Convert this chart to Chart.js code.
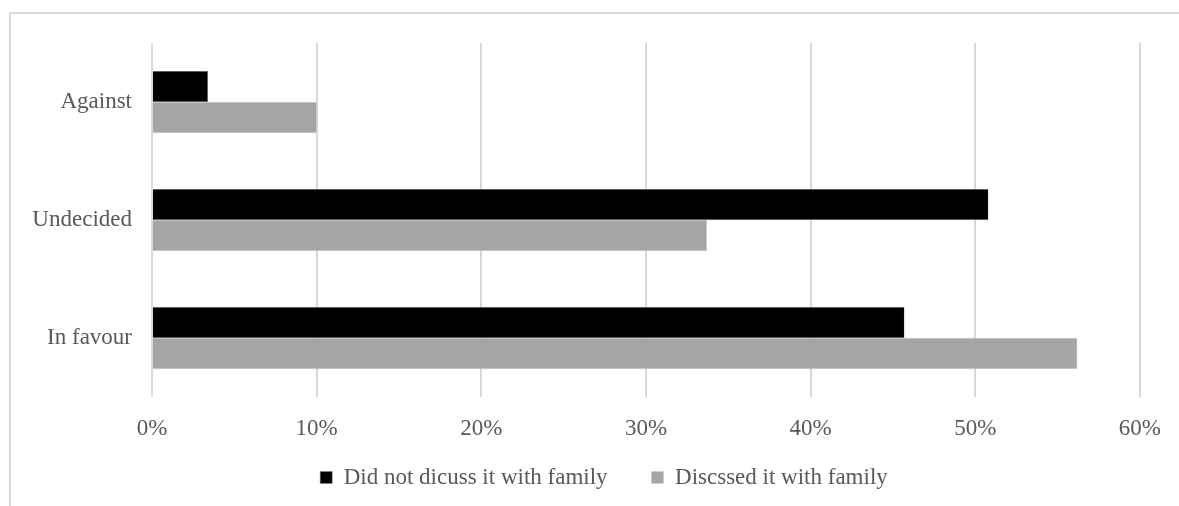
<!DOCTYPE html>
<html>
<head>
<meta charset="utf-8">
<script src="https://cdn.jsdelivr.net/npm/chart.js@4"></script>
<style>
  body { margin: 0; background: #fff; }
  #wrap { position: relative; width: 1179px; height: 506px; overflow: hidden; }
  #frame {
    position: absolute; left: 9px; top: 12px; width: 1300px; height: 600px;
    border-top: 2px solid #d9d9d9; border-left: 2px solid #d9d9d9;
  }
  #chartCanvas { position: absolute; left: 0; top: 0; }
</style>
</head>
<body>
<div id="wrap">
  <div id="frame"></div>
  <canvas id="chartCanvas" width="1179" height="506"></canvas>
</div>
<script>
// categories, top to bottom
var categories = ["Against", "Undecided", "In favour"];
var seriesNames = ["Did not dicuss it with family", "Discssed it with family"];
// shares (fraction of respondents)
var notDiscussed = [0.034, 0.508, 0.457];
var discussed = [0.100, 0.337, 0.562];
var xTicks = [0, 0.1, 0.2, 0.3, 0.4, 0.5, 0.6];

var textColor = "#595959";
var gridColor = "#d9d9d9";
var font = { family: "'Liberation Serif', 'Times New Roman', serif", size: 23 };

// the legend padding is also the gap between items; keep its box short for layout and move it afterwards
var legendFitHeight = 64;
var legendTop = 422;
var legendShift = 34;

var legendPlacer = {
  id: "legendPlacer",
  afterInit: function (chart) {
    var legend = chart.legend;
    var origFit = legend.fit;
    legend.fit = function () {
      origFit.call(this);
      this.height = legendFitHeight;
    };
  },
  afterLayout: function (chart) {
    var legend = chart.legend;
    legend.top = legendTop;
    legend.bottom = chart.height;
    legend.height = legend.bottom - legend.top;
    legend.left += legendShift;
    legend.right += legendShift;
  },
};

var ctx = document.getElementById("chartCanvas").getContext("2d");

var chart = new Chart(ctx, {
  type: "bar",
  data: {
    labels: categories,
    datasets: [
      {
        label: seriesNames[0],
        data: notDiscussed,
        backgroundColor: "#000000",
        borderColor: "#7f7f7f",
        borderWidth: 0.5,
      },
      {
        label: seriesNames[1],
        data: discussed,
        backgroundColor: "#a5a5a5",
        borderColor: "#c8c8c8",
        borderWidth: 0.5,
      },
    ],
  },
  plugins: [legendPlacer],
  options: {
    indexAxis: "y",
    responsive: false,
    animation: false,
    maintainAspectRatio: false,
    layout: { padding: { top: 43, right: 39, left: 0, bottom: 0 } },
    datasets: {
      bar: { barPercentage: 1, categoryPercentage: 0.525 },
    },
    plugins: {
      title: { display: false },
      tooltip: { enabled: false },
      legend: {
        position: "bottom",
        labels: {
          color: textColor,
          font: font,
          boxWidth: 12,
          boxHeight: 12,
          padding: 44,
        },
      },
    },
    scales: {
      x: {
        min: 0,
        max: 0.6,
        afterBuildTicks: function (scale) {
          scale.ticks = xTicks.map(function (v) { return { value: v }; });
        },
        afterFit: function (scale) { scale.height = 45; },
        grid: { color: gridColor, lineWidth: 2, drawTicks: false },
        border: { display: false },
        ticks: {
          color: textColor,
          font: font,
          padding: 18,
          callback: function (v) { return Math.round(v * 100) + "%"; },
        },
      },
      y: {
        afterFit: function (scale) { scale.width = 152; },
        grid: { display: false, drawTicks: false },
        border: { display: false },
        ticks: { color: textColor, font: font, padding: 20 },
      },
    },
  },
});
</script>
</body>
</html>
